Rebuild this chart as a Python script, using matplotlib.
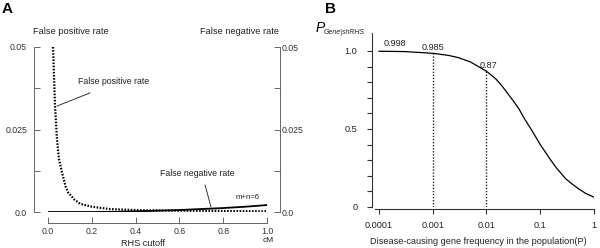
import numpy as np
import matplotlib
matplotlib.use("Agg")
import matplotlib.pyplot as plt
from matplotlib.ticker import FixedLocator, NullLocator

plt.rcParams['font.family'] = ['Liberation Sans', 'DejaVu Sans']

# panel A: false positive / false negative rate vs RHS cutoff (cM)
fp_x = [0.023, 0.028, 0.032, 0.041, 0.05, 0.064, 0.08, 0.091, 0.12, 0.146,
        0.2, 0.28, 0.35, 0.45, 0.6, 0.8, 1.0]
fp_y = [0.050, 0.040, 0.032, 0.022, 0.016, 0.012, 0.0078, 0.006, 0.0038,
        0.0025, 0.0016, 0.0009, 0.0007, 0.0005, 0.0004, 0.0003, 0.0002]
fn_x = [0.0, 0.1, 0.2, 0.3, 0.4, 0.5, 0.6, 0.7, 0.8, 0.9, 1.0]
fn_y = [0.0, 0.0, 0.0, 0.00005, 0.0002, 0.0004, 0.0006, 0.0009, 0.0012,
        0.0016, 0.0021]
a_xticks = [0.0, 0.2, 0.4, 0.6, 0.8, 1.0]
a_xlabels = ['0.0', '0.2', '0.4', '0.6', '0.8', '1.0']
a_yticks = [0.0, 0.025, 0.05]
a_ylabels = ['0.0', '0.025', '0.05']

# panel B: P(Gene|shRHS) vs disease gene frequency
freq = [1e-4, 3e-4, 1e-3, 2e-3, 3e-3, 5e-3, 0.01, 0.015, 0.02, 0.03, 0.04,
        0.05, 0.07, 0.1, 0.15, 0.2, 0.3, 0.4, 0.5, 0.7, 1.0]
prob = [0.998, 0.996, 0.985, 0.971, 0.957, 0.93, 0.87, 0.82, 0.77, 0.69,
        0.63, 0.57, 0.49, 0.40, 0.31, 0.25, 0.18, 0.145, 0.12, 0.087, 0.063]
marked_freq = [1e-3, 1e-2]
marked_prob = [0.985, 0.87]
b_xticks = [1e-4, 1e-3, 1e-2, 1e-1, 1]
b_xlabels = ['0.0001', '0.001', '0.01', '0.1', '1']
b_yticks = [0, 0.5, 1.0]
b_ylabels = ['0', '0.5', '1.0']

W, H = 600, 248
fig = plt.figure(figsize=(W / 100, H / 100), dpi=100)


def px(x, y):
    return x / W, 1 - y / H


fs = 6.3
spine_a = '#666666'
spine_b = '#333333'

# ---------------- panel A ----------------
axA = fig.add_axes([34 / W, 1 - 212 / H, (280 - 34) / W, (212 - 47) / H])
axA.plot(fn_x, fn_y, color='black', lw=1.3, solid_capstyle='butt')
axA.plot(fp_x, fp_y, color='black', lw=1.6, dashes=(0.7, 0.7))
axA.set_xlim(-0.064, 1.059)
axA.set_ylim(0, 0.05)

axA.spines['top'].set_visible(False)
axA.spines['bottom'].set_position(('outward', 7.9))
axA.spines['bottom'].set_bounds(0, 1)
for s in ['left', 'right', 'bottom']:
    axA.spines[s].set_color(spine_a)
    axA.spines[s].set_linewidth(0.7)

axA.set_xticks(a_xticks)
axA.set_xticklabels(a_xlabels)
axA.set_yticks(a_yticks)
axA.set_yticklabels(a_ylabels)
axA.yaxis.set_minor_locator(FixedLocator([0.0125, 0.0375]))
axA.tick_params(axis='x', direction='in', length=4, width=0.7, color=spine_a,
                labelsize=fs, pad=3, colors='#333333')
axA.tick_params(axis='y', which='both', direction='in', length=4, width=0.7,
                color=spine_a, labelsize=fs, left=True, right=True,
                labelleft=True, labelright=False, pad=5)
axA.tick_params(axis='y', labelcolor='#333333')

axR = axA.twinx()
axR.set_ylim(0, 0.05)
axR.set_yticks(a_yticks)
axR.set_yticklabels(a_ylabels)
axR.yaxis.set_minor_locator(FixedLocator([0.0125, 0.0375]))
axR.tick_params(axis='y', which='both', direction='in', length=4, width=0.7,
                color=spine_a, labelsize=fs, pad=1.5, labelcolor='#333333')
for s in ['top', 'left', 'bottom', 'right']:
    axR.spines[s].set_visible(False)

axA.annotate('', xy=(0.041, 0.0321), xytext=(0.192, 0.0361),
             arrowprops=dict(arrowstyle='-', color='#333333', lw=0.7,
                             shrinkA=0, shrinkB=0))
axA.text(0.297, 0.0394, 'False positive rate', fontsize=fs, ha='center',
         va='center', color='#222222')
axA.annotate('', xy=(0.744, 0.0015), xytext=(0.717, 0.0082),
             arrowprops=dict(arrowstyle='-', color='#333333', lw=0.7,
                             shrinkA=0, shrinkB=0))
axA.text(0.68, 0.0118, 'False negative rate', fontsize=fs, ha='center',
         va='center', color='#222222')
axA.text(0.909, 0.0045, 'm+n=6', fontsize=5.6, ha='center', va='center',
         color='#222222')

fig.text(*px(71, 32), 'False positive rate', fontsize=fs + 0.4, ha='center',
         va='center', color='#222222')
fig.text(*px(240, 32), 'False negative rate', fontsize=fs + 0.4, ha='center',
         va='center', color='#222222')
fig.text(*px(268, 241), 'cM', fontsize=fs - 0.3, ha='center', va='center',
         color='#222222')
fig.text(*px(143, 243), 'RHS cutoff', fontsize=fs + 0.3, ha='center',
         va='center', color='#222222')
fig.text(*px(7, 9), 'A', fontsize=11, fontweight='bold', ha='center',
         va='center')

# ---------------- panel B ----------------
axB = fig.add_axes([372 / W, 1 - 207 / H, (594 - 372) / W, (207 - 33) / H])
axB.plot(freq, prob, color='black', lw=0.9)
for f, p in zip(marked_freq, marked_prob):
    axB.plot([f, f], [0, p], color='#222222', lw=1.0, dashes=(1.0, 1.2))
axB.set_xscale('log')
axB.set_xlim(10 ** -4.13, 1)
axB.set_ylim(0, 1.115)

axB.spines['top'].set_visible(False)
axB.spines['right'].set_visible(False)
axB.spines['bottom'].set_position(('outward', 1.5))
axB.spines['bottom'].set_bounds(10 ** -4.07, 1)
axB.spines['left'].set_bounds(0, 1.115)
for s in ['left', 'bottom']:
    axB.spines[s].set_color(spine_b)
    axB.spines[s].set_linewidth(0.8)

axB.xaxis.set_major_locator(FixedLocator(b_xticks))
axB.xaxis.set_minor_locator(NullLocator())
axB.set_xticklabels(b_xlabels)
axB.set_yticks(b_yticks)
axB.set_yticklabels(b_ylabels)
axB.yaxis.set_minor_locator(FixedLocator([0.1, 0.2, 0.3, 0.4, 0.6, 0.7,
                                          0.8, 0.9]))
axB.tick_params(axis='both', which='both', direction='out', length=3.5,
                width=0.8, color=spine_b, labelsize=fs + 0.3,
                labelcolor='#222222')
axB.tick_params(axis='x', pad=5)
axB.tick_params(axis='y', pad=7)

axB.text(1e-4 * 1.2, 1.0 + 0.018, '0.998', fontsize=fs + 0.3, ha='left',
         va='bottom', color='#222222')
axB.text(1e-3, 0.985 + 0.006, '0.985', fontsize=fs + 0.3, ha='center',
         va='bottom', color='#222222')
axB.text(1.1e-2, 0.87 + 0.008, '0.87', fontsize=fs + 0.3, ha='center',
         va='bottom', color='#222222')

fig.text(*px(478, 241), 'Disease-causing gene frequency in the population(P)',
         fontsize=fs + 0.3, ha='center', va='center', color='#222222')
fig.text(*px(316, 28), 'P', fontsize=10, fontstyle='italic', ha='left',
         va='center')
fig.text(*px(324, 32), 'Gene|shRHS', fontsize=5.0, fontstyle='italic',
         ha='left', va='center', color='#222222')
fig.text(*px(331, 9), 'B', fontsize=11, fontweight='bold', ha='center',
         va='center')

fig.savefig('out.png', dpi=100)
